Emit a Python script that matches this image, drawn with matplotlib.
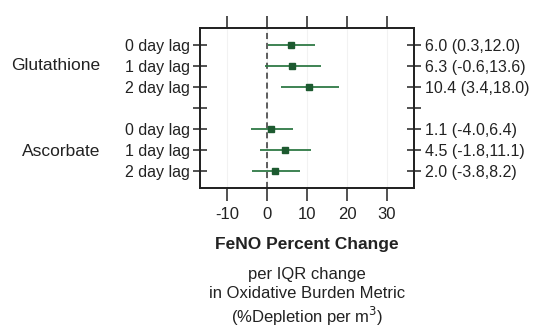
import matplotlib.pyplot as plt
import numpy as np

plt.rcParams['font.family'] = ['Liberation Sans', 'DejaVu Sans']

groups = ["Glutathione", "Ascorbate"]
lags = ["0 day lag", "1 day lag", "2 day lag"]
est = [6.0, 6.3, 10.4, 1.1, 4.5, 2.0]
lo = [0.3, -0.6, 3.4, -4.0, -1.8, -3.8]
hi = [12.0, 13.6, 18.0, 6.4, 11.1, 8.2]
xticks = [-10, 0, 10, 20, 30]

# rows top to bottom, with a blank row between groups
ypos = [7, 6, 5, 3, 2, 1]
green = "#2f7a45"
dot = "#1d5a30"
ink = "#222222"

fig = plt.figure(figsize=(5.34, 3.26), dpi=100)
ax = fig.add_axes([200 / 534, 1 - 188 / 326, 214 / 534, 160 / 326])

for x in xticks:
    ax.axvline(x, color="#f2f2f2", lw=0.8, zorder=0)
ax.axvline(0, color="#333333", lw=1.1, ls=(0, (4, 2.5)), zorder=1)

ax.hlines(ypos, lo, hi, color=green, lw=1.3, zorder=2)
ax.plot(est, ypos, "s", color=dot, ms=3.8, zorder=3)

ax.set_xlim(-16.75, 36.75)
ax.set_ylim(0.2, 7.8)

ax.set_xticks(xticks)
ax.set_xticklabels([str(x) for x in xticks], fontsize=12, color=ink)
ax.tick_params(axis="x", which="both", direction="out", length=9, width=1.1,
               top=True, bottom=True, pad=5, color=ink)

yt = [7, 6, 5, 4, 3, 2, 1]
ax.set_yticks(yt)
ax.set_yticklabels(lags + [""] + lags, fontsize=11.5, color=ink)
ax.tick_params(axis="y", direction="inout", length=10, width=1.1,
               left=True, right=True, pad=2, color=ink)

ax2 = ax.twinx()
ax2.set_ylim(ax.get_ylim())
ax2.set_yticks(yt)
labs = ["%.1f (%.1f,%.1f)" % (e, l, h) for e, l, h in zip(est, lo, hi)]
ax2.set_yticklabels(labs[:3] + [""] + labs[3:], fontsize=11.5, color=ink)
ax2.tick_params(axis="y", direction="inout", length=10, width=1.1, pad=3,
                color=ink)

for a in (ax, ax2):
    for s in a.spines.values():
        s.set_linewidth(1.3)
        s.set_color(ink)

fig.text(100 / 534, 1 - 66 / 326, groups[0], ha="right", va="center",
         fontsize=12.5, color=ink)
fig.text(100 / 534, 1 - 151 / 326, groups[1], ha="right", va="center",
         fontsize=12.5, color=ink)

cx = 307 / 534
fig.text(cx, 1 - 245 / 326, "FeNO Percent Change", ha="center", va="center",
         fontsize=12.5, fontweight="bold", color=ink)
fig.text(cx, 1 - 274 / 326, "per IQR change", ha="center", va="center",
         fontsize=12, color=ink)
fig.text(cx, 1 - 294 / 326, "in Oxidative Burden Metric", ha="center",
         va="center", fontsize=12, color=ink)
fig.text(cx, 1 - 316 / 326, "(%Depletion per m$^3$)", ha="center",
         va="center", fontsize=12, color=ink)

fig.savefig("out.png", dpi=100, facecolor="white")
